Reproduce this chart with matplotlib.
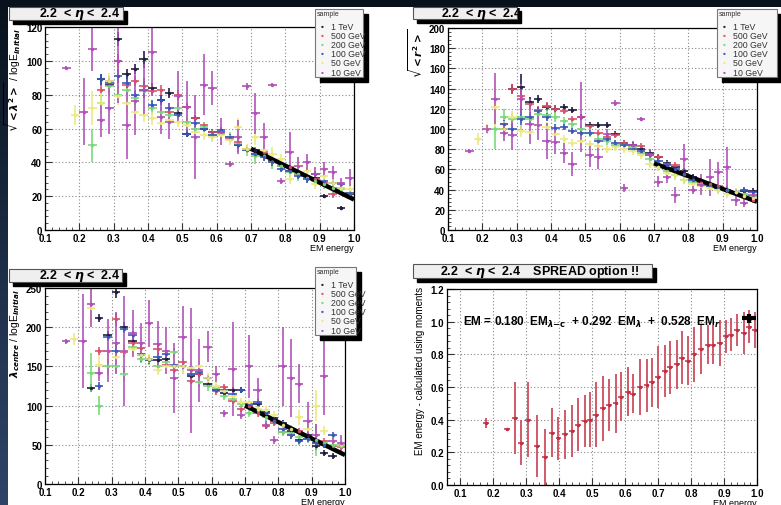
import numpy as np
import matplotlib
matplotlib.use('Agg')
import matplotlib.pyplot as plt
from matplotlib.patches import Rectangle
from matplotlib.colors import LinearSegmentedColormap
from matplotlib.ticker import MultipleLocator

plt.rcParams['font.family'] = ['Liberation Sans', 'DejaVu Sans']
plt.rcParams['font.weight'] = 'bold'

n = np.nan

# bin centres of EM energy fraction (panels 1-3)
em_bins = [0.1625, 0.1875, 0.2125, 0.2375, 0.2625, 0.2875, 0.3125, 0.3375, 0.3625, 0.3875,
           0.4125, 0.4375, 0.4625, 0.4875, 0.5125, 0.5375, 0.5625, 0.5875, 0.6125, 0.6375,
           0.6625, 0.6875, 0.7125, 0.7375, 0.7625, 0.7875, 0.8125, 0.8375, 0.8625, 0.8875,
           0.9125, 0.9375, 0.9625, 0.9875]
samples = ['1 TeV', '500 GeV', '200 GeV', '100 GeV', '50 GeV', '10 GeV']
sample_colors = ['#1c1c40', '#d8506a', '#78d878', '#3858b8', '#ecea80', '#b050b8']

# panel 1 : sqrt(<lambda^2>) / logE
p1_1tev = [n, n, n, n, 89, 86, 113, 92, 95, 101, 84, 77, 81, 69, 57, 66, 60, 58, 58, 55,
           50, 47, 47, 45, 41, 38, 35, 33, 31, 31, 20, 25, 13, 21]
p1_500 = [n, n, n, n, 83, 88, 100, 86, 88, 85, 82, 83, 70, 80, 73, 66, 62, 58, 57, 54,
          52, 48, 45, 46, 40, 38, 37, 33, 31, 30, 28, 21, 25, 22]
p1_200 = [n, n, n, 50, 75, 85, 80, 83, 78, 82, 72, 70, 68, 72, 64, 60, 61, 56, 57, 55,
          51, 47, 44, 44, 40, 38, 34, 33, 31, 29, 27, 25, 24, 22]
p1_100 = [n, n, n, n, 89, 87, 91, 87, 80, 83, 74, 77, 72, 68, 57, 63, 60, 56, 59, 55,
          50, 47, 45, 43, 40, 36, 35, 32, 30, 33, 29, 28, 27, 22]
p1_50 = [n, 68, n, 72, 75, 88, 79, 75, 70, 68, 66, 63, 65, 64, 62, 58, 56, 55, 56, 53,
         61, 48, 55, 47, 45, 42, 30, 38, 35, 27, 32, 28, 25, 24]
p1_10 = [96, n, 70, 107, 65, 72, 100, 62, 76, 83, 105, 67, 64, 79, 73, 55, 86, 84, 58, 39,
         55, 85, 69, 55, 86, 29, 46, 38, 40, 33, 36, 34, 28, 31]
p1_err_hi = [0, 0, 0, 0, 3, 3, 4, 3, 3, 5, 3, 3, 3, 3, 2, 2, 2, 2, 2, 2,
             2, 2, 2, 2, 2, 2, 2, 2, 2, 2, 1, 2, 1, 1]
p1_err_mid = [2, 6, 2, 10, 6, 5, 5, 5, 4, 4, 4, 3, 3, 3, 3, 3, 3, 3, 3, 3,
              5, 3, 5, 3, 4, 3, 3, 4, 3, 3, 3, 3, 3, 3]
p1_err_10 = [1, 0, 20, 13, 10, 15, 25, 20, 20, 15, 25, 10, 10, 15, 15, 25, 18, 10, 8, 2,
             10, 2, 12, 8, 1, 2, 12, 5, 5, 4, 4, 4, 3, 5]

# panel 2 : sqrt(<r^2>)
p2_1tev = [n, n, n, n, 100, 140, 142, 127, 130, 122, 120, 122, 119, 112, 104, 104, 104, 95, 86, 84,
           80, 76, 72, 66, 62, 58, 52, 48, 44, 42, 40, 38, 39, 39]
p2_500 = [n, n, n, n, 105, 140, 133, 125, 119, 123, 120, 118, 110, 112, 103, 96, 92, 94, 86, 83,
          83, 75, 72, 65, 64, 55, 50, 47, 46, 44, 40, 38, 34, 30]
p2_200 = [n, n, n, 100, 112, 110, 112, 110, 115, 114, 112, 108, 105, 100, 96, 90, 88, 84, 84, 82,
          76, 70, 62, 58, 54, 50, 48, 46, 44, 40, 40, 38, 36, 34]
p2_100 = [n, n, n, n, 105, 100, 110, 112, 118, 112, 101, 102, 98, 96, 96, 88, 90, 86, 84, 80,
          78, 74, 68, 64, 60, 55, 50, 45, 44, 42, 40, 38, 40, 38]
p2_50 = [n, 90, 100, 122, 100, 112, 98, 97, 104, 102, 95, 90, 86, 88, 85, 83, 80, 82, 80, 78,
         74, 65, 62, 56, 54, 50, 46, 44, 42, 40, 36, 38, 34, 32]
p2_10 = [78, n, 100, 130, 96, 94, 130, 105, 104, 88, 87, 76, 65, 112, 74, 72, 95, 126, 42, 84,
         110, 74, 48, 52, 35, 70, 40, 45, 52, 57, 62, 30, 27, 35]
p2_err_hi = [0, 0, 0, 0, 4, 5, 12, 5, 4, 4, 4, 3, 3, 3, 3, 3, 3, 3, 3, 3,
             3, 3, 3, 3, 3, 3, 3, 3, 3, 3, 3, 3, 3, 3]
p2_err_mid = [3, 6, 5, 20, 8, 6, 6, 5, 5, 5, 5, 4, 4, 4, 4, 4, 4, 4, 4, 4,
              4, 4, 4, 4, 4, 4, 4, 4, 4, 4, 4, 4, 4, 4]
p2_err_10 = [2, 0, 4, 25, 8, 15, 15, 20, 15, 18, 12, 10, 12, 35, 12, 12, 5, 3, 4, 4,
             2, 6, 5, 5, 8, 15, 4, 10, 18, 10, 20, 6, 4, 5]

# panel 3 : lambda_centre / logE
p3_1tev = [n, n, n, 122, 212, 190, 245, 200, 183, 165, 160, 158, 160, 150, 150, 138, 140, 128, 120, 116,
           120, 120, 100, 102, 92, 84, 78, 68, 56, 62, 48, 40, 36, 50]
p3_500 = [n, n, n, n, 170, 170, 210, 168, 180, 174, 158, 172, 152, 145, 155, 132, 140, 135, 118, 124,
          106, 96, 100, 90, 74, 78, 66, 62, 68, 58, 52, 55, 48, 47]
p3_200 = [n, n, n, 142, 100, 150, 150, 140, 175, 160, 158, 150, 155, 168, 150, 140, 130, 125, 122, 112,
          108, 102, 90, 95, 85, 80, 66, 65, 60, 58, 56, 52, 50, 48]
p3_100 = [n, n, n, n, 125, 187, 170, 198, 190, 166, 158, 162, 166, 152, 150, 140, 143, 135, 120, 120,
          115, 120, 102, 105, 90, 80, 70, 62, 55, 58, 52, 50, 62, 50]
p3_50 = [n, 185, n, 225, 152, 170, 162, 170, 172, 165, 160, 145, 150, 150, 150, 148, 150, 135, 125, 118,
         112, 105, 104, 96, 94, 88, 75, 70, 85, 70, 100, 68, 55, 50]
p3_10 = [182, n, 182, 230, 142, 170, 180, 170, 192, 180, 205, 178, 170, 135, 187, 145, 145, 175, 140, 90,
         147, 88, 150, 120, 75, 56, 150, 135, 128, 80, 62, 138, 55, 52]
p3_err_hi = [0, 0, 0, 5, 5, 5, 8, 6, 5, 5, 5, 5, 5, 4, 4, 4, 4, 4, 4, 4,
             4, 4, 4, 4, 4, 4, 4, 4, 4, 4, 4, 4, 4, 4]
p3_err_mid = [4, 8, 4, 25, 12, 10, 8, 8, 8, 6, 6, 6, 6, 6, 10, 6, 6, 6, 5, 5,
              5, 5, 5, 5, 6, 5, 5, 5, 10, 6, 20, 6, 6, 6]
p3_err_10 = [3, 0, 60, 30, 10, 40, 40, 70, 30, 25, 30, 30, 30, 45, 40, 80, 40, 20, 10, 5,
             60, 5, 40, 15, 5, 5, 50, 50, 25, 25, 15, 50, 5, 10]

# linear fits above 0.7
fit_x = [0.7, 1.0]
p1_fit = [48, 18]
p2_fit = [66, 28]
p3_fit = [100, 37]

# panel 4 : calculated EM energy vs EM energy (SPREAD)
p4_x = [0.178, 0.242, 0.265, 0.285, 0.305, 0.334, 0.356, 0.378, 0.398, 0.418,
        0.438, 0.458, 0.478, 0.495, 0.513, 0.532, 0.552, 0.571, 0.588, 0.608,
        0.625, 0.645, 0.665, 0.682, 0.700, 0.720, 0.736, 0.756, 0.772, 0.790,
        0.810, 0.830, 0.850, 0.868, 0.887, 0.905, 0.922, 0.940, 0.960, 0.975, 0.995]
p4_y = [0.38, 0.34, 0.41, 0.26, 0.40, 0.24, 0.17, 0.32, 0.285, 0.31,
        0.33, 0.37, 0.39, 0.40, 0.43, 0.47, 0.49, 0.50, 0.54, 0.57,
        0.56, 0.60, 0.61, 0.63, 0.66, 0.70, 0.72, 0.74, 0.78, 0.76,
        0.80, 0.83, 0.86, 0.86, 0.87, 0.91, 0.92, 0.95, 0.93, 0.97, 0.95]
p4_err = [0.03, 0.01, 0.22, 0.14, 0.23, 0.19, 0.17, 0.15, 0.13, 0.15,
          0.16, 0.16, 0.16, 0.17, 0.20, 0.20, 0.16, 0.18, 0.15, 0.15,
          0.12, 0.17, 0.16, 0.15, 0.19, 0.16, 0.16, 0.15, 0.16, 0.15,
          0.17, 0.15, 0.12, 0.12, 0.14, 0.10, 0.10, 0.10, 0.13, 0.10, 0.11]
spread_x = [0.975]
spread_y = [1.02]

W, H = 781, 506
fig = plt.figure(figsize=(W / 100, H / 100), dpi=100)
fig.patch.set_facecolor('#08121c')


def fx(px):
    return px / W


def fy(py):
    return 1 - py / H


# white slide area + bluish strip on the left
fig.add_artist(Rectangle((fx(8), 0), 1, fy(8), transform=fig.transFigure,
                         facecolor='white', edgecolor='none', zorder=0))
strip = fig.add_axes([0, 0, fx(8), 1])
strip.imshow(np.linspace(0, 1, 200).reshape(-1, 1), aspect='auto',
             cmap=LinearSegmentedColormap.from_list('s', ['#08121c', '#1c2c44', '#2e4568']))
strip.axis('off')


def style_axes(ax, xmin, ymax, ystep, yminor):
    ax.set_xlim(xmin, 1.0)
    ax.set_ylim(0, ymax)
    ax.xaxis.set_major_locator(MultipleLocator(0.1))
    ax.xaxis.set_minor_locator(MultipleLocator(0.02))
    ax.yaxis.set_major_locator(MultipleLocator(ystep))
    ax.yaxis.set_minor_locator(MultipleLocator(yminor))
    ax.grid(True, which='major', color='#888888', lw=0.8, ls=(0, (1, 2)))
    ax.tick_params(which='both', direction='in', labelsize=7, pad=2, color='#333333')
    ax.tick_params(which='major', length=5)
    ax.tick_params(which='minor', length=2.5)
    ax.set_xlabel('EM energy', loc='right', fontsize=6.5, labelpad=0.5)
    for s in ax.spines.values():
        s.set_linewidth(0.9)
    ax.set_facecolor('white')


def pave(x0, y0, x1, y1, text, tx):
    fig.add_artist(Rectangle((fx(x0 + 4), fy(y1 + 4)), (x1 - x0) / W, (y1 - y0) / H,
                             transform=fig.transFigure, color='black', zorder=5))
    fig.add_artist(Rectangle((fx(x0), fy(y1)), (x1 - x0) / W, (y1 - y0) / H,
                             transform=fig.transFigure, facecolor='#efefef',
                             edgecolor='#555555', lw=0.8, zorder=6))
    fig.text(fx(tx), fy((y0 + y1) / 2), text, ha='center', va='center',
             fontsize=9, weight='bold', zorder=7)


def legend_box(x0, y0, x1, y1):
    fig.add_artist(Rectangle((fx(x0 + 5), fy(y1 + 5)), (x1 - x0) / W, (y1 - y0) / H,
                             transform=fig.transFigure, color='black', zorder=5))
    fig.add_artist(Rectangle((fx(x0), fy(y1)), (x1 - x0) / W, (y1 - y0) / H,
                             transform=fig.transFigure, facecolor='#f6f6f6',
                             edgecolor='#777777', lw=0.8, zorder=6))
    fig.text(fx(x0 + 2), fy(y0 + 1), 'sample', ha='left', va='top', fontsize=5,
             weight='normal', color='#333333', zorder=7)
    step = (y1 - y0 - 13) / 6
    for i, (lab, col) in enumerate(zip(samples, sample_colors)):
        yy = y0 + 14 + step * (i + 0.35)
        fig.text(fx(x0 + 7), fy(yy), '\u2022', ha='center', va='center', fontsize=6,
                 color=col, zorder=7)
        fig.text(fx(x0 + 16), fy(yy), lab, ha='left', va='center', fontsize=6.3,
                 weight='normal', color='#333333', zorder=7)


def draw_samples(ax, series, errs, fit_y):
    for vals, err, col in zip(series, errs, sample_colors):
        ax.errorbar(em_bins, vals, yerr=err, xerr=0.0125, fmt='o', ms=1.5, color=col,
                    ecolor=col, elinewidth=1.3, capsize=0, alpha=0.9)
    ax.plot(fit_x, fit_y, color='black', lw=3.2, solid_capstyle='butt')


def box(l, t, r, b):
    return [fx(l), fy(b), (r - l) / W, (b - t) / H]


# ---- panel 1
ax1 = fig.add_axes(box(45, 28, 354, 231))
draw_samples(ax1, [p1_1tev, p1_500, p1_200, p1_100, p1_50, p1_10],
             [p1_err_hi, p1_err_hi, p1_err_mid, p1_err_hi, p1_err_mid, p1_err_10], p1_fit)
style_axes(ax1, 0.1, 120, 20, 4)
ax1.set_ylabel(r'$\sqrt{<\lambda^{2}>}$ / logE$_{initial}$', loc='top', fontsize=7.5)
ax1.yaxis.set_label_coords(-0.072, 1.0)

# ---- panel 2
ax2 = fig.add_axes(box(448, 29, 757, 231))
draw_samples(ax2, [p2_1tev, p2_500, p2_200, p2_100, p2_50, p2_10],
             [p2_err_hi, p2_err_hi, p2_err_mid, p2_err_hi, p2_err_mid, p2_err_10], p2_fit)
style_axes(ax2, 0.1, 200, 20, 4)
ax2.set_ylabel(r'$\sqrt{<r^{2}>}$', loc='top', fontsize=7.5)
ax2.yaxis.set_label_coords(-0.075, 1.0)

# ---- panel 3
ax3 = fig.add_axes(box(45, 289, 345, 485))
draw_samples(ax3, [p3_1tev, p3_500, p3_200, p3_100, p3_50, p3_10],
             [p3_err_hi, p3_err_hi, p3_err_mid, p3_err_hi, p3_err_mid, p3_err_10], p3_fit)
style_axes(ax3, 0.1, 250, 50, 10)
ax3.set_ylabel(r'$\lambda_{centre}$ / logE$_{initial}$', loc='top', fontsize=7.5)
ax3.yaxis.set_label_coords(-0.075, 1.0)

# ---- panel 4
ax4 = fig.add_axes(box(447, 290, 757, 486))
ax4.errorbar(p4_x, p4_y, yerr=p4_err, xerr=0.009, fmt='o', ms=1.5, color='#c03040',
             ecolor='#d05a6a', elinewidth=1.4, capsize=0)
ax4.errorbar(spread_x, spread_y, yerr=0.03, xerr=0.022, fmt='o', ms=3, color='black',
             elinewidth=3, capsize=0)
style_axes(ax4, 0.06, 1.2, 0.2, 0.04)
ax4.set_ylabel('EM energy - calculated using moments', loc='top', fontsize=7)
ax4.yaxis.set_label_coords(-0.07, 1.015)
ax4.text(0.108, 1.0, r'EM = 0.180  EM$_{\lambda\mathrm{-c}}$  + 0.292  EM$_{\lambda}$  +  0.528  EM$_{r}$',
         fontsize=8.5, weight='bold', va='center', ha='left')

# title boxes and legends
pave(9, 8, 123, 21, r'2.2  < $\eta$ <  2.4', 80)
pave(413, 8, 517, 20, r'2.2  < $\eta$ <  2.4', 482)
pave(9, 270, 122, 283, r'2.2  < $\eta$ <  2.4', 80)
pave(413, 265, 652, 279, r'2.2  < $\eta$ <  2.4    SPREAD option !!', 540)
legend_box(315, 10, 363, 78)
legend_box(717, 10, 777, 78)
legend_box(315, 268, 356, 336)

fig.savefig('out.png', dpi=100, facecolor=fig.get_facecolor())
